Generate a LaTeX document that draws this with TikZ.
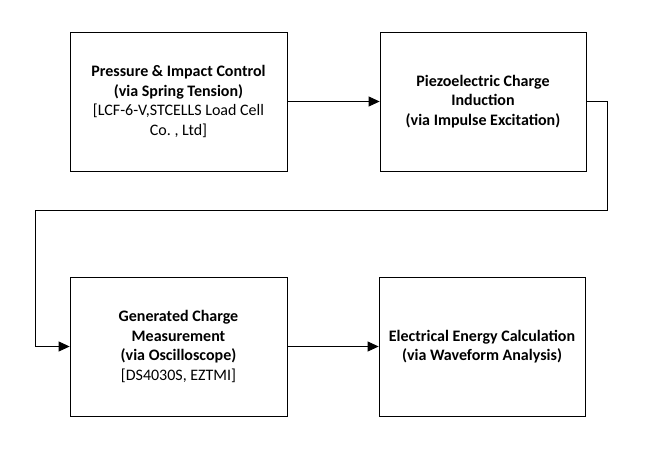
\documentclass[tikz,border=0pt]{standalone}
\usepackage{fontspec}
\setmainfont{Carlito}
\usetikzlibrary{arrows.meta}

\begin{document}
\begin{tikzpicture}[x=1pt, y=-1pt]
    \tikzstyle{block} = [rectangle, draw, line width=0.8pt, align=center, inner sep=0pt,
                                      minimum height=139pt, minimum width=206pt,
                                      font=\fontsize{16}{19.7}\selectfont]
    \tikzstyle{wide} = [block, minimum width=217pt]
    \tikzstyle{flow} = [-{Triangle[length=11pt, width=10pt]}, line width=0.8pt]
  \useasboundingbox[fill=white] (0,0) rectangle (649,453);
  \node[wide](press) at (178.5,101.5){\textbf{Pressure \& Impact Control}\\\textbf{(via Spring Tension)}\\{}[LCF-6-V,STCELLS Load Cell\\Co.\ , Ltd]};
  \node[block](piezo) at (483,101.5){\textbf{Piezoelectric Charge}\\\textbf{Induction}\\\textbf{(via Impulse Excitation)}};
  \node[wide](measure) at (178.5,346.5){\textbf{Generated Charge}\\\textbf{Measurement}\\\textbf{(via Oscilloscope)}\\{}[DS4030S, EZTMI]};
  \node[block](energy) at (482,346.5){\textbf{Electrical Energy Calculation}\\\textbf{(via Waveform Analysis)}};
  \coordinate (loopR) at (607,210);
  \coordinate (loopL) at (35,210);
  \draw[flow] (press) -- (piezo);
  \draw[flow] (piezo.east) -| (loopR) -- (loopL) |- (measure.west);
  \draw[flow] (measure) -- (energy);
  \end{tikzpicture}
\end{document}
